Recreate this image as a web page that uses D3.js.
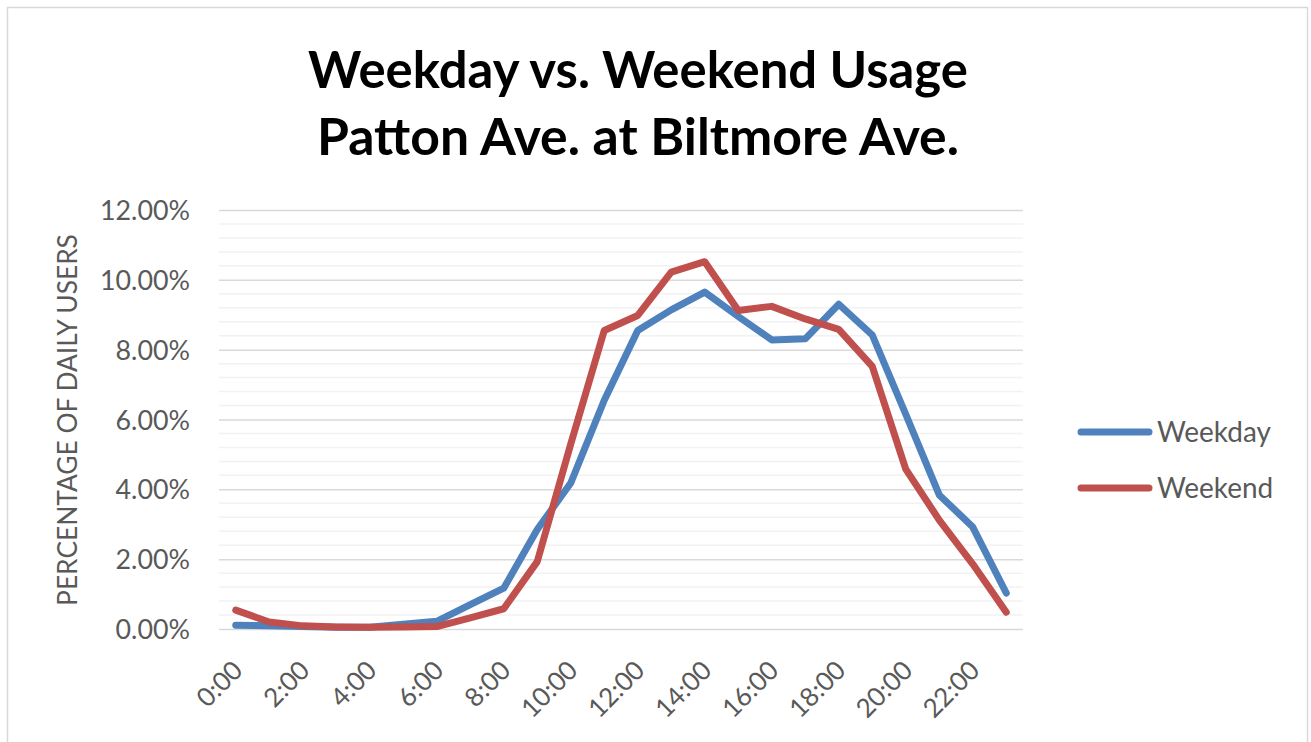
<!DOCTYPE html>
<html>
<head>
<meta charset="utf-8">
<script src="https://cdn.jsdelivr.net/npm/d3@7/dist/d3.min.js"></script>
<style>
  html, body { margin: 0; padding: 0; background: #ffffff; }
  svg { display: block; }
  text { font-family: Lato, "Open Sans", "DejaVu Sans", sans-serif; }
</style>
</head>
<body>
<svg id="chart" width="1311" height="742"></svg>
<script>
// ---- data ----
const hours = ["0:00","1:00","2:00","3:00","4:00","5:00","6:00","7:00","8:00","9:00","10:00","11:00",
               "12:00","13:00","14:00","15:00","16:00","17:00","18:00","19:00","20:00","21:00","22:00","23:00"];
const weekday = [0.11,0.09,0.07,0.05,0.05,0.14,0.22,0.70,1.17,2.85,4.18,6.55,
                 8.55,9.14,9.65,8.95,8.28,8.31,9.30,8.42,6.15,3.84,2.92,1.03];
const weekend = [0.54,0.20,0.09,0.06,0.05,0.06,0.07,0.32,0.58,1.93,5.30,8.55,
                 8.98,10.22,10.52,9.12,9.24,8.88,8.58,7.52,4.58,3.12,1.86,0.48];
const seriesNames = ["Weekday","Weekend"];
const seriesColors = ["#4F81BD","#C0504D"];
const yTicks = [0,2,4,6,8,10,12];
const xTickLabels = hours.filter((h,i) => i % 2 === 0);
const titleLines = ["Weekday vs. Weekend Usage","Patton Ave. at Biltmore Ave."];
const yTitle = "PERCENTAGE OF DAILY USERS";

// ---- layout ----
const svg = d3.select("#chart");
const plot = {left: 219, right: 1023, top: 210, bottom: 629};

function fit(sel, width, base) {
  sel.attr("font-size", base);
  const w = sel.node().getComputedTextLength();
  sel.attr("font-size", base * width / w);
  return sel;
}

// outer border
svg.append("rect").attr("x", 7.5).attr("y", 7.5).attr("width", 1300).attr("height", 745)
  .attr("fill", "none").attr("stroke", "#d9d9d9").attr("stroke-width", 1.5);

const x = d3.scalePoint().domain(hours).range([plot.left, plot.right]).padding(0.5);
const y = d3.scaleLinear().domain([0, 12]).range([plot.bottom, plot.top]);

// minor gridlines
const minor = d3.range(0, 12.0001, 0.4).filter(v => Math.abs(v/2 - Math.round(v/2)) > 1e-6);
svg.append("g").selectAll("line").data(minor).join("line")
  .attr("x1", plot.left).attr("x2", plot.right)
  .attr("y1", d => y(d)).attr("y2", d => y(d))
  .attr("stroke", "#f2f2f2").attr("stroke-width", 1.5);

// major gridlines via axis
const yAxis = d3.axisLeft(y).tickValues(yTicks).tickSize(-(plot.right - plot.left))
  .tickFormat(d => d.toFixed(2) + "%");
const gy = svg.append("g").attr("transform", `translate(${plot.left},0)`).call(yAxis);
gy.select(".domain").remove();
gy.selectAll(".tick line").attr("stroke", "#d9d9d9").attr("stroke-width", 1.5);
gy.selectAll(".tick text").attr("x", -29).attr("fill", "#595959")
  .attr("font-family", "Lato, sans-serif").attr("font-size", 25).attr("dy", "0.36em");
// fit y tick font
{
  const t = gy.selectAll(".tick text").filter(d => d === 12);
  const w = t.node().getComputedTextLength();
  gy.selectAll(".tick text").attr("font-size", 25 * 90 / w);
}

// x axis labels
const xAxis = d3.axisBottom(x).tickValues(xTickLabels).tickSize(0);
const gx = svg.append("g").attr("transform", `translate(0,${plot.bottom})`).call(xAxis);
gx.select(".domain").remove();
gx.selectAll(".tick text")
  .attr("fill", "#595959").attr("font-family", "Lato, sans-serif").attr("font-size", 25)
  .attr("text-anchor", "end").attr("x", 0).attr("y", 0).attr("dy", 0)
  .attr("transform", "translate(8,43) rotate(-45)");
{
  const t = gx.selectAll(".tick text").filter(d => d === "10:00");
  const w = t.node().getComputedTextLength();
  gx.selectAll(".tick text").attr("font-size", 25 * 67 / w);
}

// lines
const line = d3.line().x((d, i) => x(hours[i])).y(d => y(d));
[weekday, weekend].forEach((s, k) => {
  svg.append("path").datum(s).attr("d", line)
    .attr("fill", "none").attr("stroke", seriesColors[k]).attr("stroke-width", 7)
    .attr("stroke-linejoin", "round").attr("stroke-linecap", "round");
});

// title
const tWidths = [660, 642];
const tBase = [88, 155];
titleLines.forEach((s, i) => {
  const t = svg.append("text").attr("x", 638).attr("y", tBase[i]).attr("text-anchor", "middle")
    .attr("font-weight", "bold").attr("fill", "#000").text(s);
  fit(t, tWidths[i], 48);
});

// y title
const yt = svg.append("text").attr("transform", "translate(77,420) rotate(-90)")
  .attr("text-anchor", "middle").attr("fill", "#595959").text(yTitle);
fit(yt, 372, 22);

// legend
const legY = [432, 488];
seriesNames.forEach((n, i) => {
  svg.append("line").attr("x1", 1081).attr("x2", 1149).attr("y1", legY[i]).attr("y2", legY[i])
    .attr("stroke", seriesColors[i]).attr("stroke-width", 7).attr("stroke-linecap", "round");
  const t = svg.append("text").attr("x", 1157).attr("y", legY[i]).attr("dy", "0.36em")
    .attr("fill", "#595959").text(n);
  if (i === 0) fit(t, 114, 24);
  else t.attr("font-size", svg.select("text:last-of-type").attr("font-size"));
});
{
  const texts = svg.selectAll("text").filter(function(){ return this.textContent === "Weekday" || this.textContent === "Weekend"; });
  const fs = texts.filter(function(){ return this.textContent === "Weekday"; }).attr("font-size");
  texts.attr("font-size", fs);
}
</script>
</body>
</html>
